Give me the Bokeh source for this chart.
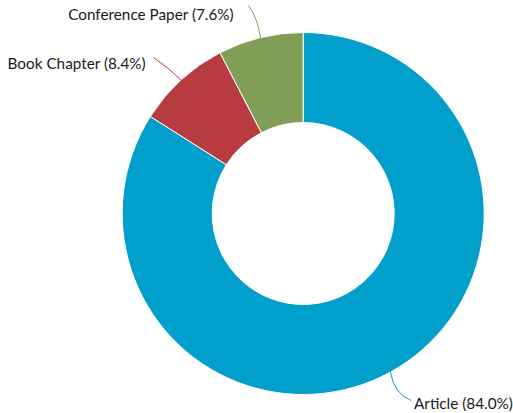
import numpy as np
from bokeh.plotting import figure
from bokeh.models import Range1d
from bokeh.core.properties import value
from bokeh.embed import file_html
from bokeh.resources import INLINE

categories = ["Article", "Book Chapter", "Conference Paper"]
values = [84.0, 8.4, 7.6]
colors = ["#009FCC", "#B83B3F", "#7F9F57"]

W, H = 513, 413
p = figure(width=W, height=H, output_backend="svg", toolbar_location=None,
           x_range=Range1d(0, W), y_range=Range1d(0, H),
           min_border=0)
p.axis.visible = False
p.grid.visible = False
p.outline_line_color = None
p.background_fill_color = "white"

cx, cy = 302.7, H - 213
r_in, r_out = 91, 181

fr = np.array(values) / sum(values)
ends = np.pi / 2 - 2 * np.pi * np.cumsum(fr)
starts = np.concatenate([[np.pi / 2], ends[:-1]])
mids = (starts + ends) / 2

p.annular_wedge(x=cx, y=cy, inner_radius=r_in, outer_radius=r_out,
                inner_radius_units="screen", outer_radius_units="screen",
                start_angle=ends, end_angle=starts, direction="anticlock",
                fill_color=colors, line_color="white", line_width=1)

# leader lines and labels
label_pts = [(410.5, H - 400), (153, H - 57), (248, H - 5)]
ctrl_off = [(4, -22), (-12, 12), (-2, 18)]
anchors = ["left", "right", "right"]
text_pos = [(413.5, H - 402), (145.5, H - 62), (233.5, H - 13)]
for i, cat in enumerate(categories):
    x0 = cx + r_out * np.cos(mids[i])
    y0 = cy + r_out * np.sin(mids[i])
    x1, y1 = label_pts[i]
    qx, qy = x0 + ctrl_off[i][0], y0 + ctrl_off[i][1]
    p.quadratic(x0=[x0], y0=[y0], x1=[x1], y1=[y1], cx=[qx], cy=[qy],
                line_color=colors[i], line_width=1)
    p.text(x=[text_pos[i][0]], y=[text_pos[i][1]],
           text=[f"{cat} ({values[i]:.1f}%)"],
           text_font=value("Lato"), text_font_size="15.3px",
           text_color="#1a1a1a", text_align=anchors[i], text_baseline="middle")

open("out.html", "w").write(file_html(p, INLINE))
